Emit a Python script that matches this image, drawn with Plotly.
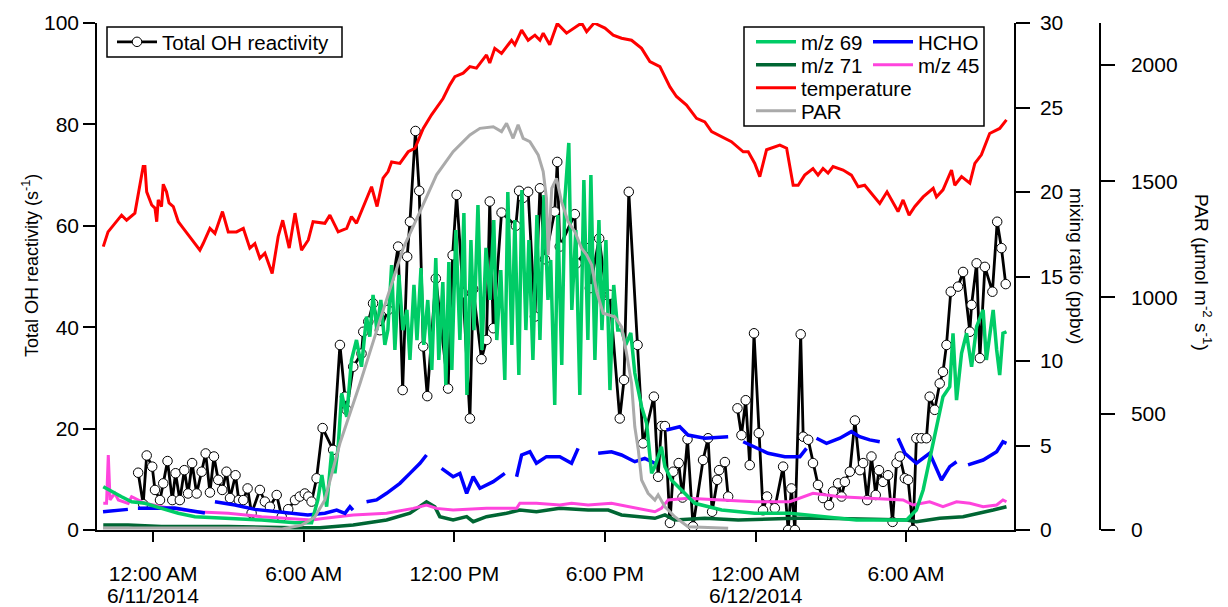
import plotly.graph_objects as go
import pandas as pd

BASE = pd.Timestamp("2014-06-11 00:00")

# ---------------- data (time in hours relative to 6/11/2014 00:00) ----------------
oh_hours = [-0.60, -0.40, -0.26, -0.04, 0.07, 0.27, 0.40, 0.57, 0.76, 0.89, 1.06, 1.24, 1.39, 1.55,
            1.73, 1.93, 2.09, 2.26, 2.42, 2.59, 2.75, 2.92, 3.06, 3.28, 3.41, 3.59, 3.76, 3.92, 4.25,
            4.45, 4.65, 4.92, 5.12, 5.38, 5.65, 5.84, 6.04, 6.18, 6.31, 6.51, 6.75, 7.17, 7.44, 7.64,
            7.71, 7.97, 8.30, 8.37, 8.57, 8.76, 9.03, 9.36, 9.76, 9.94, 10.12, 10.23, 10.45, 10.60,
            10.76, 10.92, 11.26, 11.75, 11.93, 12.09, 12.35, 12.62, 12.75, 13.08, 13.28, 13.41, 13.55,
            13.88, 14.45, 14.58, 14.74, 14.94, 15.21, 15.41, 15.61, 16.00, 16.10, 16.20, 16.80, 16.87,
            17.33, 17.40, 17.77, 18.06, 18.19, 18.59, 18.76, 18.95, 19.30, 19.52, 19.95, 20.12, 20.25,
            20.39, 20.59, 20.72, 20.94, 21.09, 21.29, 21.51, 21.91, 22.11, 22.27, 22.47, 22.55, 22.78,
            22.91, 23.10, 23.28, 23.44, 23.61, 23.77, 23.94, 24.13, 24.30, 24.46, 24.77, 25.10, 25.30,
            25.43, 25.57, 25.80, 25.90, 26.10, 26.29, 26.49, 26.69, 26.93, 27.09, 27.29, 27.43, 27.56,
            27.76, 27.96, 28.16, 28.29, 28.45, 28.62, 28.79, 28.92, 29.08, 29.28, 29.46, 29.62, 29.75,
            29.95, 30.08, 30.28, 30.41, 30.61, 30.81, 30.94, 31.14, 31.34, 31.47, 31.61, 31.78, 32.07,
            32.27, 32.54, 32.61, 32.81, 32.94, 33.14, 33.44, 33.63, 33.80, 33.97]
oh_values = [11.3, 5.1, 14.7, 12.5, 7.9, 5.9, 9.2, 13.6, 5.9, 11.2, 5.9, 11.8, 7.2, 13.2,
             7.2, 11.5, 15.1, 7.4, 14.5, 9.9, 7.9, 11.5, 6.3, 10.8, 5.9, 5.9, 8.2, 3.3, 7.9,
             5.6, 4.6, 6.9, 2.6, 4.1, 5.9, 6.6, 7.2, 6.6, 5.6, 10.2, 20.1, 15.8, 36.5, 26.3,
             23.7, 32.2, 34.8, 39.1, 41.1, 44.7, 39.4, 43.4, 55.9, 27.6, 53.9, 60.8, 78.7, 66.9,
             36.2, 26.4, 49.6, 27.9, 54.2, 66.1, 46.7, 22.0, 47.5, 33.7, 37.5, 64.8, 39.8,
             62.6, 60.0, 66.9, 65.5, 66.7, 42.1, 67.4, 53.4, 62.8, 72.6, 55.9, 62.3, 52.6,
             55.6, 47.7, 57.5, 46.4, 46.4, 22.0, 29.6, 66.7, 36.5, 17.1, 26.3, 10.5, 20.5,
             20.5, 1.4, 11.5, 13.2, 6.4, 17.9, 0.7, 13.8, 18.1, 3.6, 9.9, 11.8, 13.4,
             6.6, None, 24.0, 18.7, 25.6, 12.8, 38.8, 19.1, 3.9, 6.6, 4.3, 12.5, 0.0,
             8.2, 0.0, 38.6, 18.4, 17.8, 13.2, 8.9, 6.3, 4.9, 7.6, 9.2, 6.6, 9.5,
             11.5, 21.6, 11.8, 13.2, 5.9, 14.5, 6.9, 11.8, 9.5, 10.8, 1.6, 13.2, 14.5,
             10.2, 9.9, 0.0, 18.1, 18.1, 18.1, 26.3, 23.7, 28.9, 31.2, 36.5, 47.0, 48.0,
             50.9, 39.1, 44.4, 52.6, 33.9, 51.9, 47.0, 60.8, 55.6, 48.5]

mz69_hours = [-1.99, -1.66, -1.26, -0.86, -0.33, 0.33, 1.00, 1.66, 2.99, 4.32, 5.65, 6.31, 6.56, 6.72,
              6.91, 7.11, 7.24, 7.37, 7.51, 7.71, 7.90, 8.10, 8.30, 8.50, 8.63, 8.76, 8.91, 9.07,
              9.23, 9.35, 9.50, 9.63, 9.79, 9.95, 10.11, 10.23, 10.39, 10.51, 10.67, 10.78, 10.94,
              11.10, 11.26, 11.38, 11.54, 11.66, 11.78, 11.90, 12.06, 12.22, 12.38, 12.50, 12.66,
              12.78, 12.94, 13.10, 13.26, 13.42, 13.57, 13.69, 13.85, 14.01, 14.13, 14.29, 14.41,
              14.57, 14.69, 14.85, 14.97, 15.13, 15.29, 15.41, 15.57, 15.73, 15.84, 16.00, 16.12,
              16.28, 16.40, 16.56, 16.68, 16.84, 17.00, 17.16, 17.32, 17.44, 17.60, 17.76, 17.88,
              18.04, 18.20, 18.35, 18.51, 18.67, 18.83, 19.03, 19.19, 19.46, 19.66, 19.86, 19.99,
              20.25, 20.39, 20.65, 21.05, 21.58, 22.65, 23.97, 25.37, 28.02, 30.02, 30.41, 30.68,
              30.94, 31.21, 31.47, 31.74, 31.87, 32.01, 32.21, 32.41, 32.61, 32.81, 33.07, 33.20,
              33.47, 33.61, 33.73, 33.86, 34.00]
mz69_values = [2.56, 2.27, 1.97, 1.67, 1.58, 1.28, 0.99, 0.79, 0.69, 0.59, 0.43, 0.43, 1.78, 3.25,
               1.38, 4.63, 3.36, 4.93, 8.09, 6.70, 10.06, 11.24, 9.66, 12.62, 11.44, 13.91, 11.83, 13.61,
               10.95, 11.83, 15.68, 10.65, 15.09, 11.83, 13.02, 10.06, 14.50, 11.24, 15.50, 10.95, 13.61,
               9.47, 16.09, 10.06, 14.67, 8.58, 15.86, 9.47, 17.75, 11.24, 18.76, 7.99, 17.16,
               11.83, 19.23, 10.65, 16.69, 13.61, 18.34, 11.24, 15.38, 8.88, 20.0, 10.95, 18.34,
               9.17, 20.12, 11.83, 17.16, 10.06, 18.64, 11.24, 19.82, 13.61, 15.98, 7.40, 18.64,
               9.76, 19.5, 22.9, 13.02, 17.75, 7.99, 20.71, 11.24, 21.0, 10.06, 18.34, 11.83,
               17.16, 8.28, 14.50, 11.83, 11.83, 10.95, 11.66, 9.29, 7.30, 6.31, 3.36, 3.75,
               4.93, 3.75, 2.96, 2.37, 1.58, 1.18, 0.99, 0.99, 0.59, 0.59, 1.18, 2.37,
               4.14, 6.11, 7.89, 8.48, 11.64, 7.69, 10.46, 11.64, 9.66, 12.03, 13.02, 10.06,
               13.02, 10.65, 9.17, 11.64, 11.73]

hcho_hours = [-2.00, -1.53, -1.01, -0.80, -0.61, 0.86, 2.06, 2.26, 2.46, 3.26, 4.05, 4.85, 5.65, 6.16,
              6.84, 7.31, 7.64, 7.84, 7.96, 8.20, 8.50, 8.90, 9.30, 9.83, 10.23, 10.63, 10.89, 11.20,
              11.49, 11.95, 12.22, 12.49, 12.75, 13.02, 13.55, 14.01, 14.25, 14.48, 14.68, 15.01,
              15.27, 15.67, 16.20, 16.67, 16.93, 17.30, 17.73, 18.26, 18.66, 19.19, 19.59, 19.99,
              20.20, 20.45, 20.98, 21.31, 21.98, 22.91, 23.20, 23.51, 23.97, 24.50, 25.17, 25.77,
              26.03, 26.25, 26.43, 26.83, 27.36, 27.82, 28.15, 28.55, 28.95, 29.30, 29.68, 29.95,
              30.41, 30.94, 31.41, 31.74, 32.01, 32.25, 32.47, 33.07, 33.61, 33.86, 34.00]
hcho_values = [1.08, 1.14, 1.22, None, 1.28, 1.30, 1.00, None, 1.67, 1.48, 1.22, 1.08, 0.99, 0.89,
               0.99, 1.18, 0.99, 1.38, 1.18, None, 1.67, 1.78, 2.17, 2.76, 3.35, 3.95, 4.44, None,
               3.65, 3.15, 3.35, 2.17, 3.15, 2.47, 2.86, 3.35, None, 3.15, 4.44, 4.63,
               3.95, 4.34, 4.34, 3.95, 4.83, None, 4.54, 4.63, 4.44, 4.04, 4.24, 3.95,
               None, 5.92, 6.11, 5.62, 5.43, 5.52, None, 5.22, 4.93, 4.54, 4.34, 4.34,
               4.83, None, 5.43, 5.13, 5.43, 5.82, 5.52, 5.33, 5.22, None, 5.43, 4.54,
               3.95, 4.54, 2.96, 3.75, 4.04, None, 3.85, 4.14, 4.63, 5.22, 5.13]

mz45_hours = [-1.99, -1.86, -1.79, -1.72, -1.53, -1.39, -1.00, -0.86, -0.33, 0.33, 1.66, 2.99, 4.32,
              5.38, 6.31, 6.84, 7.97, 9.30, 10.36, 10.89, 11.29, 11.95, 13.28, 14.48, 14.61, 15.27,
              16.20, 16.67, 17.33, 18.26, 19.32, 19.99, 20.25, 20.52, 21.31, 22.65, 23.97, 25.37,
              25.90, 26.29, 27.36, 28.69, 29.88, 30.28, 30.94, 31.47, 32.01, 32.54, 33.07, 33.61,
              33.86, 34.00]
mz45_values = [1.58, 1.58, 4.44, 1.78, 2.17, 1.78, 1.58, 1.97, 1.58, 1.38, 1.08, 0.99, 0.79,
               0.69, 0.59, 0.69, 0.89, 0.99, 1.28, 1.48, 1.28, 1.18, 1.28, 1.28, 1.58, 1.58,
               1.48, 1.58, 1.48, 1.58, 1.28, 1.08, 1.28, 1.78, 1.88, 1.78, 1.67, 1.67,
               1.97, 2.17, 1.97, 1.88, 1.78, 1.48, 1.67, 1.38, 1.67, 1.58, 1.38, 1.48,
               1.78, 1.67]

mz71_hours = [-1.99, -1.00, 0.33, 2.99, 5.65, 6.64, 7.97, 9.30, 10.23, 10.89, 11.22, 11.42, 11.95,
              12.49, 12.75, 13.28, 14.08, 14.61, 15.27, 16.20, 17.33, 18.13, 18.66, 19.46, 19.99,
              20.39, 20.78, 21.98, 23.31, 25.57, 26.69, 28.69, 30.02, 30.41, 31.34, 32.27, 32.94,
              33.47, 34.00]
mz71_values = [0.30, 0.30, 0.20, 0.20, 0.14, 0.14, 0.30, 0.59, 0.99, 1.67, 1.38, 0.79, 0.59,
               0.79, 0.49, 0.79, 0.99, 1.18, 1.08, 1.28, 1.18, 1.18, 0.89, 0.79, 0.69,
               0.89, 0.59, 0.69, 0.59, 0.69, 0.69, 0.63, 0.59, 0.49, 0.69, 0.79, 0.99,
               1.18, 1.38]

temp_hours = [-1.99, -1.80, -1.26, -1.06, -0.73, -0.40, -0.33, -0.26, -0.06, 0.07, 0.14, 0.20, 0.33,
              0.40, 0.53, 0.63, 0.80, 1.00, 1.20, 1.39, 1.59, 1.86, 1.99, 2.26, 2.46, 2.76, 2.99,
              3.32, 3.59, 3.85, 4.05, 4.25, 4.45, 4.74, 4.98, 5.16, 5.42, 5.65, 5.91, 6.18, 6.37,
              6.84, 7.04, 7.37, 7.71, 7.90, 8.10, 8.30, 8.70, 8.92, 9.16, 9.36, 9.50, 9.83, 10.16,
              10.43, 10.76, 11.09, 11.55, 11.82, 12.02, 12.35, 12.62, 12.88, 13.28, 13.41, 13.61,
              13.88, 14.28, 14.41, 14.68, 14.94, 15.21, 15.41, 15.54, 15.80, 16.10, 16.47, 16.87,
              17.07, 17.27, 17.57, 18.00, 18.33, 18.66, 19.06, 19.46, 19.79, 20.19, 20.59, 20.85,
              21.25, 21.65, 21.98, 22.25, 22.65, 23.04, 23.51, 23.71, 23.97, 24.17, 24.44, 24.97,
              25.24, 25.50, 25.70, 25.96, 26.29, 26.49, 26.69, 26.89, 27.09, 27.49, 27.82, 28.09,
              28.35, 28.62, 28.95, 29.24, 29.68, 29.88, 30.12, 30.35, 30.68, 31.08, 31.21, 31.47,
              31.81, 31.94, 32.21, 32.54, 32.74, 33.00, 33.33, 33.73, 34.00]
temp_values = [55.9, 58.8, 62.1, 61.1, 62.5, 71.7, 71.7, 66.7, 64.1, 63.5, 60.8, 65.1, 63.8,
               68.2, 66.7, 64.5, 63.8, 60.8, 59.5, 58.2, 56.9, 55.2, 56.5, 59.5, 58.5, 62.8, 58.8,
               58.8, 59.5, 55.6, 56.5, 53.6, 54.6, 50.6, 57.9, 61.1, 55.6, 62.5, 55.2, 57.2, 60.8,
               60.5, 62.1, 58.8, 59.5, 61.8, 60.5, 62.8, 67.7, 63.8, 69.4, 70.7, 72.6, 72.3, 74.6,
               75.3, 79.2, 81.9, 85.1, 87.8, 89.4, 90.1, 91.4, 91.1, 93.7, 92.1, 95.0,
               94.0, 96.6, 95.7, 98.6, 96.6, 97.6, 96.6, 98.0, 95.7, 99.9, 98.0, 99.3,
               100.0, 98.3, 100.0, 99.0, 97.6, 97.0, 96.6, 95.0, 92.4, 91.4, 87.4, 85.5,
               83.8, 81.2, 80.5, 78.6, 77.6, 76.6, 74.6, 74.6, 72.3, 69.7, 75.0, 75.9,
               75.3, 68.0, 68.0, 70.0, 71.3, 70.0, 71.3, 70.4, 71.7, 71.0, 70.0, 67.7,
               68.0, 66.4, 64.4, 66.7, 62.8, 65.1, 62.1, 63.8, 65.7, 67.4, 65.7, 67.1,
               71.0, 68.0, 69.7, 68.4, 72.3, 74.0, 78.2, 79.2, 80.9]

par_hours = [-2.00, -1.05, 3.97, 5.13, 5.92, 6.44, 6.84, 7.44, 8.24, 9.10, 9.96, 10.63, 11.29, 11.95,
             12.62, 13.02, 13.55, 13.88, 14.08, 14.34, 14.54, 14.74, 15.01, 15.34, 15.54, 15.67,
             15.74, 15.88, 16.07, 16.27, 16.53, 16.80, 17.07, 17.27, 17.47, 17.67, 17.93, 18.39,
             18.66, 18.86, 19.06, 19.19, 19.33, 19.46, 19.72, 19.99, 20.12, 20.39, 20.78, 21.31,
             22.91]
par_values = [9, 9, 9, 4, 21, 56, 129, 373, 630, 924, 1211, 1369, 1527, 1627,
              1699, 1727, 1734, 1713, 1749, 1684, 1742, 1684, 1670, 1613, 1541, 1426,
              1183, 1469, 1512, 1412, 1326, 1283, 1211, 1183, 1140, 1025, 932, 917,
              874, 760, 631, 444, 344, 215, 158, 129, 151, 100, 57, 14,
              7]

tick_hours = [0, 6, 12, 18, 24, 30]
tick_labels = ["12:00 AM", "6:00 AM", "12:00 PM", "6:00 PM", "12:00 AM", "6:00 AM"]
date_hours = [0, 24]
date_labels = ["6/11/2014", "6/12/2014"]


def to_time(hours):
    return [BASE + pd.Timedelta(hours=h) for h in hours]


FONT = "Liberation Sans, Arial, sans-serif"
fig = go.Figure()

fig.add_trace(go.Scatter(
    x=to_time(oh_hours), y=oh_values, name="Total OH reactivity", mode="lines+markers",
    line=dict(color="black", width=2.8),
    marker=dict(symbol="circle", size=9.5, color="white", line=dict(color="black", width=1)),
    connectgaps=False, legend="legend", yaxis="y"))

fig.add_trace(go.Scatter(x=to_time(mz71_hours), y=mz71_values, name="m/z 71", mode="lines",
                         line=dict(color="#006633", width=3.5), yaxis="y2", legend="legend3",
                         legendrank=1))
fig.add_trace(go.Scatter(x=to_time(mz45_hours), y=mz45_values, name="m/z 45", mode="lines",
                         line=dict(color="#FF44DD", width=3), yaxis="y2", legend="legend3",
                         legendrank=2))
fig.add_trace(go.Scatter(x=to_time(hcho_hours), y=hcho_values, name="HCHO", mode="lines",
                         line=dict(color="#0000FF", width=3.5), yaxis="y2", legend="legend2",
                         connectgaps=False, legendrank=2))
fig.add_trace(go.Scatter(x=to_time(mz69_hours), y=mz69_values, name="m/z 69", mode="lines",
                         line=dict(color="#00CC66", width=3.5), yaxis="y2", legend="legend2",
                         legendrank=1))
fig.add_trace(go.Scatter(x=to_time(par_hours), y=par_values, name="PAR", mode="lines",
                         line=dict(color="#AAAAAA", width=3), yaxis="y3", legend="legend5"))
fig.add_trace(go.Scatter(x=to_time(temp_hours), y=temp_values, name="temperature", mode="lines",
                         line=dict(color="#FF0000", width=3), yaxis="y4", legend="legend4"))

# plot-area edges in screen pixels (the page body adds an 8 px offset)
OFF = 8
L, R, T, B = 97, 1100, 23, 530
W, H = 1228, 607


def px(xp):
    return (xp - L) / (R - L)


def py(yp):
    return (B - yp) / (B - T)


axis_common = dict(showline=True, linecolor="black", linewidth=1.5, ticks="outside",
                   tickcolor="black", tickwidth=1.5, showgrid=False, zeroline=False,
                   automargin=False,
                   tickfont=dict(family=FONT, size=21, color="black"))

LEG_FONT = dict(family=FONT, size=20.5, color="black")
legend_common = dict(font=LEG_FONT, bgcolor="rgba(0,0,0,0)",
                     borderwidth=0, xanchor="left", yanchor="middle", orientation="h",
                     itemwidth=40, tracegroupgap=0)

annotations = [
    dict(text="Total OH reactivity (s<sup>-1</sup>)", xref="paper", yref="paper",
         x=px(30), y=py(266), textangle=-90, showarrow=False,
         xanchor="center", yanchor="middle",
         font=dict(family=FONT, size=18, color="black")),
    dict(text="mixing ratio (ppbv)", xref="paper", yref="paper",
         x=px(1077), y=py(266), textangle=90, showarrow=False,
         xanchor="center", yanchor="middle",
         font=dict(family=FONT, size=19, color="black")),
    dict(text="PAR (µmol m<sup>-2</sup> s<sup>-1</sup>)", xref="paper", yref="paper",
         x=px(1203), y=py(272), textangle=90, showarrow=False,
         xanchor="center", yanchor="middle",
         font=dict(family=FONT, size=19, color="black")),
]
# second line of the date tick labels
for h, lab in zip(date_hours, date_labels):
    annotations.append(dict(text=lab, xref="x", yref="paper", x=BASE + pd.Timedelta(hours=h),
                            y=py(595), xanchor="center", yanchor="middle", showarrow=False,
                            font=dict(family=FONT, size=21, color="black")))

fig.update_layout(
    width=W, height=H,
    margin=dict(l=L - OFF, r=W - (R - OFF), t=T - OFF, b=H - (B - OFF), autoexpand=False),
    paper_bgcolor="white", plot_bgcolor="white",
    font=dict(family=FONT, size=20, color="black"),
    xaxis=dict(axis_common, type="date", domain=[0, px(1014)],
               range=[BASE + pd.Timedelta(hours=-2.24), BASE + pd.Timedelta(hours=34.30)],
               tickvals=to_time(tick_hours), ticktext=tick_labels, ticklen=10,
               ticklabelstandoff=14),
    yaxis=dict(axis_common, range=[0, 100], tickvals=[0, 20, 40, 60, 80, 100], ticklen=12),
    yaxis2=dict(axis_common, range=[0, 30], overlaying="y", side="right", anchor="x",
                tickvals=[0, 5, 10, 15, 20, 25, 30], ticklen=14, ticklabelstandoff=6),
    yaxis3=dict(axis_common, range=[0, 2180], overlaying="y", side="right", anchor="free",
                position=1.0, tickvals=[0, 500, 1000, 1500, 2000], ticklen=14,
                ticklabelstandoff=12),
    yaxis4=dict(range=[0, 100], overlaying="y", visible=False),
    legend=dict(legend_common, x=px(112), y=py(42)),
    legend2=dict(legend_common, x=px(751), y=py(42), entrywidth=62, entrywidthmode="pixels"),
    legend3=dict(legend_common, x=px(751), y=py(65), entrywidth=62, entrywidthmode="pixels"),
    legend4=dict(legend_common, x=px(751), y=py(88)),
    legend5=dict(legend_common, x=px(751), y=py(111)),
    showlegend=True,
    shapes=[
        dict(type="rect", xref="paper", yref="paper", x0=px(107), x1=px(342),
             y0=py(57), y1=py(27), line=dict(color="black", width=1.5),
             fillcolor="white", layer="above"),
        dict(type="rect", xref="paper", yref="paper", x0=px(744), x1=px(984),
             y0=py(126), y1=py(27), line=dict(color="black", width=1.5),
             fillcolor="white", layer="above"),
    ],
    annotations=annotations,
)

fig.write_html("out.html")
